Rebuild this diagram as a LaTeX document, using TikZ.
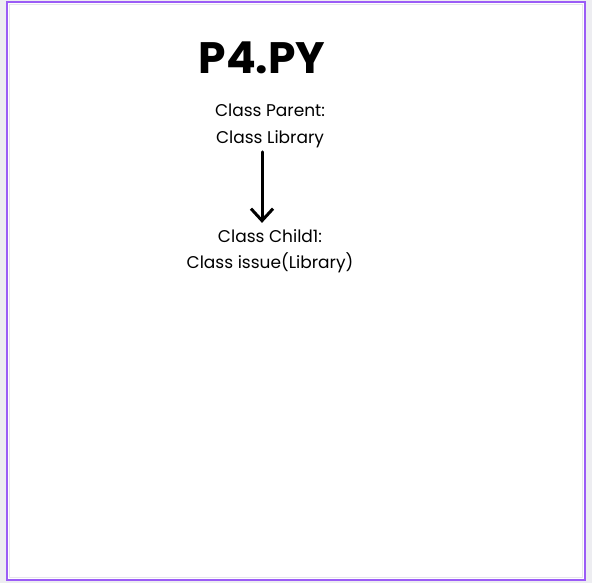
\documentclass[tikz,border=0pt]{standalone}
\usepackage{fontspec}
\setmainfont{Poppins}
\usetikzlibrary{arrows.meta, positioning}
\definecolor{frame}{HTML}{9B5CF6}
\definecolor{outside}{HTML}{EDEDF1}
\definecolor{inner}{HTML}{E6E6EA}
\tikzset{
    classtext/.style={align=center, font=\fontsize{17}{26.5}\selectfont, inner sep=0pt},
    inherit/.style={-{Straight Barb[length=12pt, width=22pt]}, line width=3pt, line cap=round}
}

\begin{document}
\begin{tikzpicture}[x=1pt, y=-1pt]
    \useasboundingbox (0,0) rectangle (592,583);
    \fill[outside] (0,0) rectangle (592,583);
    \filldraw[fill=white, draw=frame, line width=2pt] (7,2) rectangle (584.5,580);
    \draw[inner, line width=0.8pt] (9.5,4.5) rectangle (582,577.5);
    \node[font=\fontsize{44}{44}\selectfont\bfseries, inner sep=0pt] (title)  at (262,58)  {P4.PY};
    \node[classtext]                          (parent) at (270,126) {Class Parent:\\Class Library};
    \node[classtext]                          (child)  at (270,251) {Class Child1:\\Class issue(Library)};
    \path
        ([xshift=-8pt, yshift=-4pt]parent.south)
            edge [inherit] ([xshift=-8pt, yshift=6pt]child.north)
        ;
\end{tikzpicture}
\end{document}
